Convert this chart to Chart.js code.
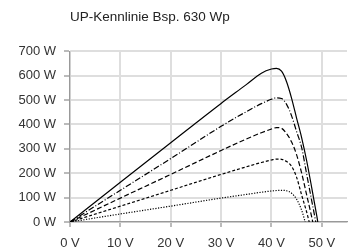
<!DOCTYPE html>
<html>
<head>
<meta charset="utf-8">
<script src="https://cdn.jsdelivr.net/npm/chart.js@4/dist/chart.umd.min.js"></script>
<style>
  html, body { margin: 0; padding: 0; background: #fff; overflow: hidden; }
  #wrap { position: relative; width: 356px; height: 256px; }
</style>
</head>
<body>
<div id="wrap"><canvas id="chart"></canvas></div>
<script>
// Spannung (V) und Leistung (W) je Einstrahlungsstufe
const voltage = [0, 10, 20, 30, 35, 38, 40, 41, 42, 43, 44, 45, 46, 47, 48, 49];
const power630 = [0, 163, 325, 486, 563, 610, 627, 630, 618, 575, 507, 425, 345, 250, 140, 25];
const power510 = [0, 130, 260, 392, 452, 485, 503, 509, 506, 482, 435, 370, 305, 195, 87, null];
const power390 = [0, 98, 195, 293, 340, 366, 381, 387, 384, 362, 328, 275, 200, 110, 20, null];
const power260 = [0, 65, 130, 195, 226, 244, 254, 258, 257, 248, 228, 183, 110, 40, null, null];
const power130 = [0, 33, 65, 98, 113, 122, 127, 129, 130, 128, 118, 93, 48, null, null, null];
const openVoltage = [49.2, 48.8, 48.2, 47.5, 46.7];

const xTicks = [0, 10, 20, 30, 40, 50];
const yTicks = [0, 100, 200, 300, 400, 500, 600, 700];

const series = [power630, power510, power390, power260, power130];
const dashes = [[], [6, 2, 1, 2], [5, 2.5], [3, 2], [1.2, 1.5]];

function toPoints(values, voc) {
  const pts = [];
  values.forEach((p, i) => {
    if (p !== null) pts.push({ x: voltage[i], y: p });
  });
  pts.push({ x: voc, y: 0 });
  return pts;
}

const datasets = series.map((values, i) => ({
  data: toPoints(values, openVoltage[i]),
  borderColor: "#000",
  borderWidth: 1.2,
  borderDash: dashes[i],
  pointRadius: 0,
  fill: false,
  cubicInterpolationMode: "monotone"
}));

const font = { family: "'Liberation Sans', Arial, sans-serif", size: 13 };

new Chart(document.getElementById("chart"), {
  type: "line",
  data: { datasets },
  options: {
    responsive: true,
    maintainAspectRatio: false,
    animation: false,
    layout: { padding: { left: 0, right: 9, top: 0, bottom: 0 } },
    plugins: {
      legend: { display: false },
      tooltip: { enabled: false },
      title: {
        display: true,
        text: "UP-Kennlinie Bsp. 630 Wp",
        align: "start",
        fullSize: false,
        color: "#222",
        font: { family: font.family, size: 13.5, weight: "normal" },
        padding: { top: 9, bottom: 26 }
      }
    },
    scales: {
      x: {
        type: "linear",
        min: 0,
        max: 55,
        afterBuildTicks: scale => { scale.ticks = xTicks.map(v => ({ value: v })); },
        afterFit: scale => { scale.height = 34; },
        ticks: { color: "#333", font, padding: 9, maxRotation: 0, callback: v => v + " V" },
        grid: { color: "#dedede", lineWidth: 2, tickLength: 5, tickColor: "#bbb" },
        border: { color: "#999", width: 1.2 }
      },
      y: {
        min: 0,
        max: 700,
        afterBuildTicks: scale => { scale.ticks = yTicks.map(v => ({ value: v })); },
        afterFit: scale => { scale.width = 70; },
        ticks: { color: "#333", font, padding: 8, callback: v => v + " W" },
        grid: { color: "#dedede", lineWidth: 2, tickLength: 6, tickColor: "#bbb" },
        border: { color: "#999", width: 1.2 }
      }
    }
  }
});
</script>
</body>
</html>
